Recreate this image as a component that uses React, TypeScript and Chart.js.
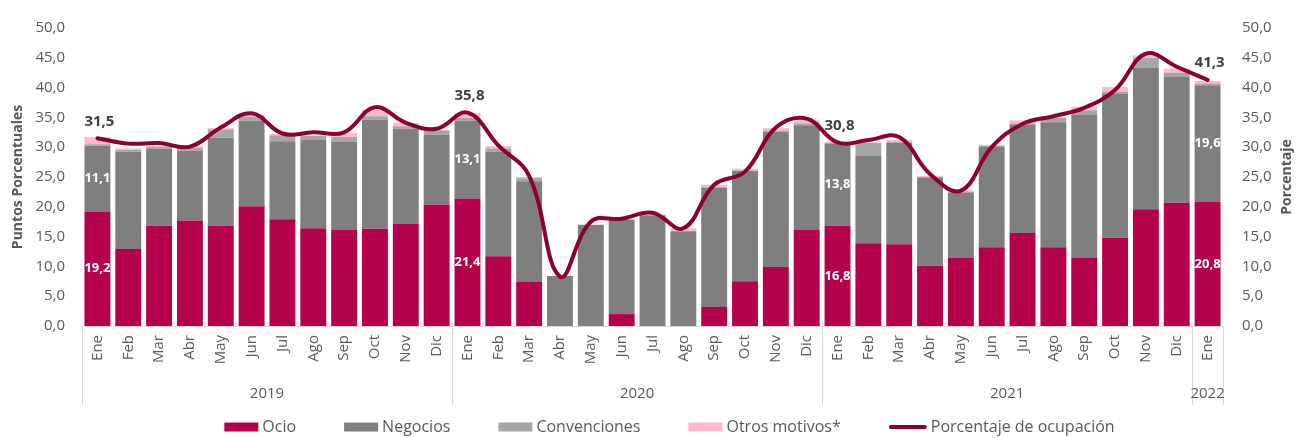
import React, { useEffect, useRef } from 'react';
import { Chart, registerables } from 'chart.js';

Chart.register(...registerables);

const monthNames = ['Ene', 'Feb', 'Mar', 'Abr', 'May', 'Jun', 'Jul', 'Ago', 'Sep', 'Oct', 'Nov', 'Dic'];
const years = ['2019', '2020', '2021', '2022'];
const monthsPerYear = [12, 12, 12, 1];
const categories = years.flatMap((y, i) => monthNames.slice(0, monthsPerYear[i]));

const ocio = [
  19.2, 12.9, 16.8, 17.7, 16.8, 20.1, 17.9, 16.4, 16.1, 16.3, 17.1, 20.4,
  21.4, 11.7, 7.4, 0, 0, 2.0, 0, 0, 3.2, 7.5, 9.9, 16.1,
  16.8, 13.9, 13.7, 10.1, 11.4, 13.2, 15.6, 13.2, 11.4, 14.8, 19.6, 20.7,
  20.8,
];
const negocios = [
  11.1, 16.3, 13.0, 11.7, 14.8, 14.4, 13.1, 14.9, 14.8, 18.3, 16.0, 11.7,
  13.1, 17.5, 16.9, 8.4, 17.0, 15.8, 18.6, 15.9, 20.0, 18.5, 22.7, 17.6,
  13.8, 14.7, 17.1, 14.8, 11.0, 16.9, 18.2, 21.0, 24.0, 24.2, 23.7, 21.1,
  19.6,
];
const convenciones = [
  0.2, 0.4, 0.3, 0.5, 1.4, 0.6, 1.0, 0.6, 0.8, 0.6, 0.4, 0.7,
  0.4, 0.6, 0.5, 0, 0, 0.1, 0, 0, 0.1, 0.1, 0.2, 0.3,
  0.1, 2.1, 0.1, 0.1, 0.1, 0.1, 0.2, 0.7, 0.8, 0.3, 1.7, 0.7,
  0.3,
];
const otros = [
  1.2, 0.2, 0.1, 0.3, 0.2, 0.3, 0.2, 0.1, 0.7, 1.1, 0.6, 0.1,
  0.8, 0.4, 0.2, 0, 0, 0, 0.1, 0.5, 0.4, 0.3, 0.4, 0.5,
  0.2, 0.1, 0.3, 0.2, 0.3, 0.2, 0.5, 0.2, 0.6, 0.8, 0.4, 0.7,
  0.4,
];
const ocupacion = [
  31.5, 30.6, 30.7, 30.1, 33.3, 35.7, 32.3, 32.5, 32.5, 36.7, 34.1, 33.1,
  35.8, 30.3, 25.2, 8.3, 17.5, 18.0, 19.0, 16.4, 23.7, 25.9, 33.3, 34.8,
  30.8, 31.2, 31.7, 25.5, 22.7, 30.0, 33.9, 35.2, 36.6, 39.6, 45.7, 43.5,
  41.3,
];
const labeledIndices = [0, 12, 24, 36];

const seriesNames = ['Ocio', 'Negocios', 'Convenciones', 'Otros motivos*', 'Porcentaje de ocupación'];
const colors = ['#B5004B', '#7F7F7F', '#A6A6A6', '#FFB7D0', '#8C0037'];

const FONT = "'Open Sans', sans-serif";
const TEXT = '#595959';
const fmt = (v: number) => v.toFixed(1).replace('.', ',');

const decorPlugin = {
  id: 'decor',
  afterDatasetsDraw(chart: any) {
    const { ctx } = chart;
    ctx.save();
    // white labels inside bars
    ctx.font = `bold 13px ${FONT}`;
    ctx.fillStyle = '#FFFFFF';
    ctx.textAlign = 'center';
    ctx.textBaseline = 'middle';
    [0, 1].forEach((d) => {
      const meta = chart.getDatasetMeta(d);
      const vals = chart.data.datasets[d].data;
      labeledIndices.forEach((i) => {
        const el = meta.data[i];
        if (!el) return;
        const p = el.getProps(['x', 'y', 'base'], true);
        ctx.fillText(fmt(vals[i]), p.x, (p.y + p.base) / 2);
      });
    });
    // line value labels
    const lm = chart.getDatasetMeta(4);
    ctx.font = `bold 15px ${FONT}`;
    ctx.fillStyle = '#404040';
    labeledIndices.forEach((i) => {
      const el = lm.data[i];
      if (!el) return;
      ctx.fillText(fmt(ocupacion[i]), el.x + 2, el.y - 17);
    });
    ctx.restore();
  },
  afterDraw(chart: any) {
    const { ctx, chartArea } = chart;
    const xs = chart.scales.x;
    const n = categories.length;
    const cw = (xs.right - xs.left) / n;
    ctx.save();
    // separators
    ctx.strokeStyle = '#D9D9D9';
    ctx.lineWidth = 1;
    const sepBottom = 405;
    let idx = 0;
    const bounds = [0];
    monthsPerYear.forEach((m) => { idx += m; bounds.push(idx); });
    bounds.forEach((b) => {
      const x = Math.round(xs.getPixelForValue(Math.min(b, n - 1)) + (b >= n ? cw / 2 : -cw / 2)) + 0.5;
      ctx.beginPath();
      ctx.moveTo(x, chartArea.bottom);
      ctx.lineTo(x, sepBottom);
      ctx.stroke();
    });
    // year labels
    ctx.font = `15px ${FONT}`;
    ctx.fillStyle = TEXT;
    ctx.textAlign = 'center';
    ctx.textBaseline = 'middle';
    let start = 0;
    years.forEach((y, k) => {
      const end = start + monthsPerYear[k] - 1;
      const cx = (xs.getPixelForValue(start) + xs.getPixelForValue(end)) / 2;
      ctx.fillText(y, cx, 394);
      start = end + 1;
    });
    // right axis title
    ctx.save();
    ctx.translate(chart.width - 12, (chartArea.top + chartArea.bottom) / 2);
    ctx.rotate(-Math.PI / 2);
    ctx.font = `bold 14px ${FONT}`;
    ctx.fillStyle = TEXT;
    ctx.textAlign = 'center';
    ctx.textBaseline = 'middle';
    ctx.fillText('Porcentaje', 0, 0);
    ctx.restore();
    // legend
    ctx.font = `16px ${FONT}`;
    const boxW = 34;
    const lineW = 38;
    const boxH = 9;
    const gap = 4;
    const spacing = 48;
    const markW = seriesNames.map((t, i) => (i < 4 ? boxW : lineW));
    const widths = seriesNames.map((t, i) => markW[i] + gap + ctx.measureText(t).width);
    const total = widths.reduce((a, b) => a + b, 0) + spacing * (seriesNames.length - 1);
    let lx = 669.5 - total / 2;
    const ly = 427;
    seriesNames.forEach((t, i) => {
      if (i < 4) {
        ctx.fillStyle = colors[i];
        ctx.fillRect(lx, ly - boxH / 2, boxW, boxH);
      } else {
        ctx.strokeStyle = colors[i];
        ctx.lineWidth = 4;
        ctx.lineCap = 'round';
        ctx.beginPath();
        ctx.moveTo(lx + 2, ly);
        ctx.lineTo(lx + lineW - 2, ly);
        ctx.stroke();
      }
      ctx.fillStyle = TEXT;
      ctx.textAlign = 'left';
      ctx.fillText(t, lx + markW[i] + gap, ly);
      lx += widths[i] + spacing;
    });
    ctx.restore();
  },
};

export default function App() {
  const ref = useRef<HTMLCanvasElement | null>(null);
  useEffect(() => {
    if (!ref.current) return;
    const barData = [ocio, negocios, convenciones, otros];
    const chart = new Chart(ref.current, {
      type: 'bar',
      data: {
        labels: categories,
        datasets: [
          ...barData.map((d, i) => ({
            type: 'bar' as const,
            label: seriesNames[i],
            data: d,
            backgroundColor: colors[i],
            borderWidth: 0,
            barPercentage: 0.84,
            categoryPercentage: 1.0,
            yAxisID: 'y',
            order: 1,
          })),
          {
            type: 'line' as const,
            label: seriesNames[4],
            data: ocupacion,
            borderColor: colors[4],
            backgroundColor: colors[4],
            borderWidth: 4,
            tension: 0.4,
            pointRadius: 0,
            borderCapStyle: 'round',
            borderJoinStyle: 'round',
            yAxisID: 'y2',
            order: 0,
          } as any,
        ],
      },
      options: {
        responsive: false,
        animation: false,
        layout: { padding: { top: 21.5, bottom: 0, left: 0, right: 0 } },
        plugins: {
          legend: { display: false },
          tooltip: { enabled: false },
        },
        scales: {
          x: {
            stacked: true,
            grid: { display: false, drawTicks: false },
            border: { display: true, color: '#D9D9D9' },
            ticks: {
              autoSkip: false,
              minRotation: 90,
              maxRotation: 90,
              padding: 9,
              color: TEXT,
              font: { family: FONT, size: 15 },
            },
            afterFit: (s: any) => { s.height = 112; },
          },
          y: {
            stacked: true,
            position: 'left',
            min: 0,
            max: 50,
            grid: { display: false, drawTicks: false },
            border: { display: false },
            ticks: {
              stepSize: 5,
              padding: 17,
              color: TEXT,
              font: { family: FONT, size: 15 },
              callback: (v: any) => fmt(Number(v)),
            },
            title: {
              display: true,
              text: 'Puntos Porcentuales',
              color: TEXT,
              font: { family: FONT, size: 14, weight: 'bold' },
              padding: { top: 10, bottom: 0 },
            },
            afterFit: (s: any) => { s.width = 82; },
          },
          y2: {
            position: 'right',
            min: 0,
            max: 50,
            grid: { display: false, drawTicks: false },
            border: { display: false },
            ticks: {
              stepSize: 5,
              padding: 19,
              color: TEXT,
              font: { family: FONT, size: 15 },
              callback: (v: any) => fmt(Number(v)),
            },
            afterFit: (s: any) => { s.width = 76; },
          },
        },
      },
      plugins: [decorPlugin],
    });
    return () => chart.destroy();
  }, []);
  return (
    <div style={{ position: 'absolute', left: 0, top: 0, width: 1299, height: 438 }}>
      <canvas ref={ref} width={1299} height={438} style={{ width: 1299, height: 438, display: 'block' }} />
    </div>
  );
}
